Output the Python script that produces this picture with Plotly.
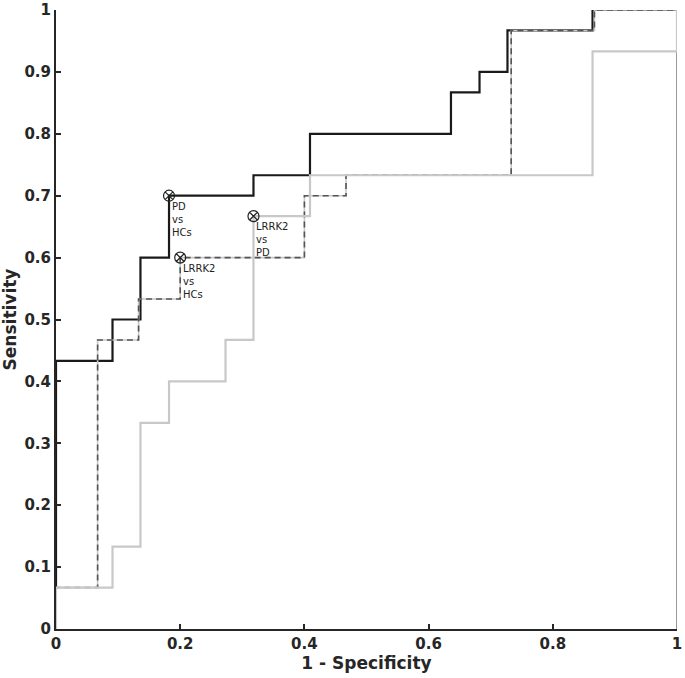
import plotly.graph_objects as go

# ROC curves (1 - specificity, sensitivity)
pd_hc_fpr = [0, 0, 0.091, 0.091, 0.136, 0.136, 0.182, 0.182, 0.318, 0.318, 0.409, 0.409,
             0.636, 0.636, 0.682, 0.682, 0.727, 0.727, 0.864, 0.864, 1.0]
pd_hc_tpr = [0.067, 0.433, 0.433, 0.5, 0.5, 0.6, 0.6, 0.7, 0.7, 0.733, 0.733, 0.8,
             0.8, 0.867, 0.867, 0.9, 0.9, 0.967, 0.967, 1.0, 1.0]

lrrk2_hc_fpr = [0, 0, 0.067, 0.067, 0.133, 0.133, 0.2, 0.2, 0.4, 0.4, 0.467, 0.467,
                0.733, 0.733, 0.867, 0.867, 1.0]
lrrk2_hc_tpr = [0, 0.067, 0.067, 0.467, 0.467, 0.533, 0.533, 0.6, 0.6, 0.7, 0.7, 0.733,
                0.733, 0.967, 0.967, 1.0, 1.0]

lrrk2_pd_fpr = [0, 0, 0.091, 0.091, 0.136, 0.136, 0.182, 0.182, 0.273, 0.273, 0.318, 0.318,
                0.409, 0.409, 0.864, 0.864, 1.0, 1.0]
lrrk2_pd_tpr = [0, 0.067, 0.067, 0.133, 0.133, 0.333, 0.333, 0.4, 0.4, 0.467, 0.467, 0.667,
                0.667, 0.733, 0.733, 0.933, 0.933, 1.0]

frame_x = [1.0, 1.0]
frame_y = [0.0, 1.0]

# Operating points
op_labels = ["PD<br>vs<br>HCs", "LRRK2<br>vs<br>HCs", "LRRK2<br>vs<br>PD"]
op_fpr = [0.182, 0.2, 0.318]
op_tpr = [0.7, 0.6, 0.667]

x_ticks = [0, 0.2, 0.4, 0.6, 0.8, 1]
x_ticktext = ["0", "0.2", "0.4", "0.6", "0.8", "1"]
y_ticks = [0, 0.1, 0.2, 0.3, 0.4, 0.5, 0.6, 0.7, 0.8, 0.9, 1]
y_ticktext = ["0", "0.1", "0.2", "0.3", "0.4", "0.5", "0.6", "0.7", "0.8", "0.9", "1"]

fig = go.Figure()

fig.add_trace(go.Scatter(x=frame_x, y=frame_y, mode="lines", cliponaxis=False,
                         line=dict(color="#333333", width=1), hoverinfo="skip", showlegend=False))
fig.add_trace(go.Scatter(x=pd_hc_fpr, y=pd_hc_tpr, mode="lines", cliponaxis=False,
                         line=dict(color="#1a1a1a", width=2.2), showlegend=False))
fig.add_trace(go.Scatter(x=lrrk2_hc_fpr, y=lrrk2_hc_tpr, mode="lines", cliponaxis=False,
                         line=dict(color="#c8c8c8", width=1.6), showlegend=False))
fig.add_trace(go.Scatter(x=lrrk2_hc_fpr, y=lrrk2_hc_tpr, mode="lines", cliponaxis=False,
                         line=dict(color="#555555", width=1.6, dash="6px,4px"), showlegend=False))
fig.add_trace(go.Scatter(x=lrrk2_pd_fpr, y=lrrk2_pd_tpr, mode="lines", cliponaxis=False,
                         line=dict(color="#c8c8c8", width=2.2), showlegend=False))
fig.add_trace(go.Scatter(x=op_fpr, y=op_tpr, mode="markers", cliponaxis=False,
                         marker=dict(symbol="circle-x-open", size=11,
                                     color="#222222", line=dict(width=1.2, color="#222222")),
                         showlegend=False))

for lx, ly, lt in zip(op_fpr, op_tpr, op_labels):
    fig.add_annotation(x=lx, y=ly, text=lt, showarrow=False, xanchor="left", yanchor="top",
                       align="left", xshift=1, yshift=-3,
                       font=dict(family="DejaVu Sans", size=10, color="#222222"))

axis_common = dict(
    showgrid=False, zeroline=False, showline=True, linecolor="#262626", linewidth=2,
    ticks="inside", ticklen=5, tickwidth=1.5, tickcolor="#262626",
    tickfont=dict(family="DejaVu Sans", size=15, color="#262626", weight="bold"),
    mirror=False, automargin=False,
)

fig.update_xaxes(range=[0, 1], tickvals=x_ticks, ticktext=x_ticktext,
                 title=dict(text="1 - Specificity", standoff=4,
                            font=dict(family="DejaVu Sans", size=17, color="#262626", weight="bold")),
                 **axis_common)
fig.update_yaxes(range=[0, 1], tickvals=y_ticks, ticktext=y_ticktext,
                 title=dict(text="Sensitivity", standoff=6,
                            font=dict(family="DejaVu Sans", size=17, color="#262626", weight="bold")),
                 **axis_common)

fig.update_layout(
    width=685, height=678,
    margin=dict(l=56, r=8, t=10, b=49),
    plot_bgcolor="white", paper_bgcolor="white",
    font=dict(family="DejaVu Sans"),
)

fig.write_html("out.html", config={"displayModeBar": False},
               post_script="document.body.style.margin='0';document.body.style.overflow='hidden';")
